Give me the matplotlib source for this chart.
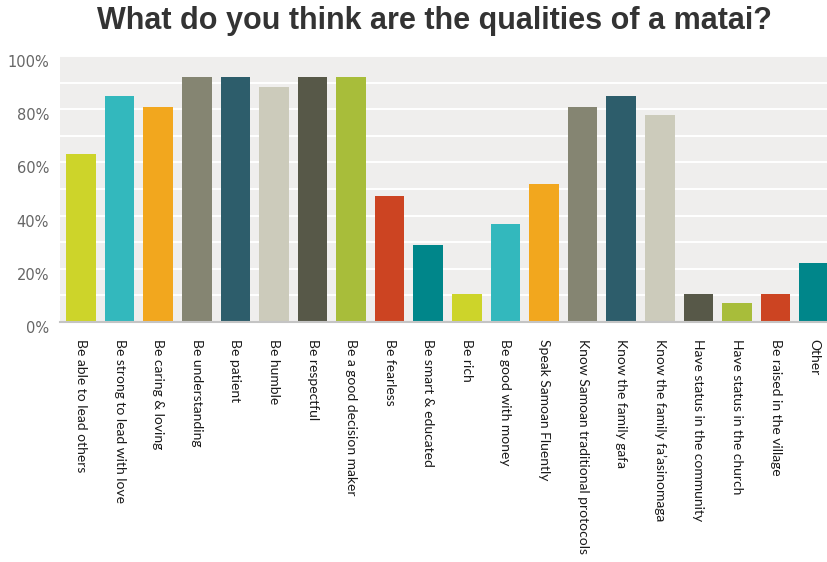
import matplotlib
matplotlib.use("Agg")
import matplotlib.pyplot as plt
import matplotlib.transforms as mtransforms
from matplotlib.ticker import MultipleLocator, FixedLocator

categories = [
    "Be able to lead others", "Be strong to lead with love", "Be caring & loving",
    "Be understanding", "Be patient", "Be humble", "Be respectful",
    "Be a good decision maker", "Be fearless", "Be smart & educated", "Be rich",
    "Be good with money", "Speak Samoan Fluently", "Know Samoan traditional protocols",
    "Know the family gafa", "Know the family fa\u2019asinomaga",
    "Have status in the community", "Have status in the church",
    "Be raised in the village", "Other",
]
values = [63, 85, 81, 92, 92, 88.5, 92, 92, 47.5, 29, 10.5, 37, 52, 81, 85, 78, 10.5, 7, 10.5, 22]
palette = ["#cdd42a", "#33b8bd", "#f2a71e", "#858572", "#2d5d6b",
           "#cccbbb", "#575848", "#a8bd3a", "#cc4422", "#00868a"]
ytick_vals = [0, 20, 40, 60, 80, 100]
ytick_labels = ["0%", "20%", "40%", "60%", "80%", "100%"]

fig = plt.figure(figsize=(8.28, 5.62), dpi=100)
ax = fig.add_axes([60/828, (562-322)/562, 1 - 60/828, (322-56)/562])
ax.set_facecolor("#efeeed")

x = list(range(len(categories)))
colors = [palette[i % len(palette)] for i in x]
ax.bar(x, values, width=0.765, color=colors, zorder=3)

ax.set_xlim(-0.544, 19.36)
ax.set_ylim(0, 100)
ax.yaxis.set_major_locator(FixedLocator(ytick_vals))
ax.set_yticklabels(ytick_labels)
ax.yaxis.set_minor_locator(MultipleLocator(10))
ax.grid(axis="y", which="both", color="white", linewidth=1.4, zorder=1)
ax.tick_params(axis="y", which="both", length=0, labelsize=10.5, labelcolor="#666666", pad=8)
for lab in ax.get_yticklabels():
    lab.set_transform(lab.get_transform() + mtransforms.ScaledTranslation(0, -5/100, fig.dpi_scale_trans))

ax.set_xticks(x)
ax.set_xticklabels(categories, rotation=270, fontfamily="Lato", fontsize=10,
                   color="#1a1a1a", va="top", ha="center", rotation_mode="default")
ax.tick_params(axis="x", length=0, pad=12)

for s in ["top", "right", "left"]:
    ax.spines[s].set_visible(False)
ax.spines["bottom"].set_color("#c4c4c4")
ax.spines["bottom"].set_linewidth(1.5)
ax.spines["bottom"].set_zorder(4)

fig.text(0.525, 0.962, "What do you think are the qualities of a matai?", ha="center", va="center",
         fontsize=22, fontweight="bold", color="#333333", fontfamily="Liberation Sans")

fig.savefig("out.png", dpi=100)
